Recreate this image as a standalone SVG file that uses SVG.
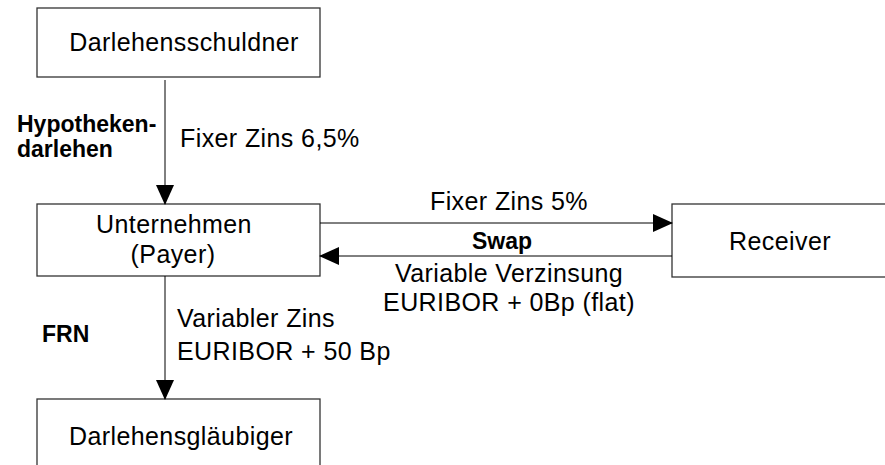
<svg xmlns="http://www.w3.org/2000/svg" width="885" height="465" viewBox="0 0 885 465">
  <style>
    .box { fill: #ffffff; stroke: #333333; stroke-width: 1.3; }
    .conn { stroke: #000000; stroke-width: 1; fill: none; }
    text { font-family: "Liberation Sans", Arial, sans-serif; font-size: 25px; letter-spacing: 0.4px; fill: #000000; }
    .b { font-weight: bold; font-size: 23px; letter-spacing: 0; }
    .c { text-anchor: middle; }
  </style>
  <defs>
    <marker id="head" markerUnits="userSpaceOnUse" markerWidth="20" markerHeight="18" refX="19" refY="9" orient="auto" viewBox="0 0 20 18">
      <polygon points="0,0 20,9 0,18" fill="#000000"/>
    </marker>
  </defs>

  <rect width="885" height="465" fill="#ffffff"/>

  <g id="darlehensschuldner">
    <rect class="box" x="37" y="8" width="283" height="69"/>
    <text class="c" x="184" y="51">Darlehensschuldner</text>
  </g>

  <g id="unternehmen">
    <rect class="box" x="37" y="204" width="283" height="72"/>
    <text class="c" x="174" y="233">Unternehmen</text>
    <text class="c" x="173" y="263">(Payer)</text>
  </g>

  <g id="receiver">
    <rect class="box" x="672" y="204" width="230" height="73"/>
    <text class="c" x="780" y="250">Receiver</text>
  </g>

  <g id="darlehensglaeubiger">
    <rect class="box" x="37" y="399" width="283" height="80"/>
    <text class="c" x="181" y="445">Darlehensgläubiger</text>
  </g>

  <g id="connectors">
    <line class="conn" x1="165" y1="80" x2="165" y2="204" marker-end="url(#head)"/>
    <line class="conn" x1="320" y1="223" x2="672" y2="223" marker-end="url(#head)"/>
    <line class="conn" x1="672" y1="256" x2="320" y2="256" marker-end="url(#head)"/>
    <line class="conn" x1="165" y1="276" x2="165" y2="399" marker-end="url(#head)"/>
  </g>

  <g id="labels">
    <text class="b" x="17" y="132">Hypotheken-</text>
    <text class="b" x="17" y="157">darlehen</text>
    <text x="180" y="147">Fixer Zins 6,5%</text>
    <text class="c" x="509" y="210">Fixer Zins 5%</text>
    <text class="b c" x="502" y="249">Swap</text>
    <text class="c" x="509" y="282">Variable Verzinsung</text>
    <text class="c" x="509" y="311">EURIBOR + 0Bp (flat)</text>
    <text class="b" x="42" y="342">FRN</text>
    <text x="177" y="327">Variabler Zins</text>
    <text x="177" y="360">EURIBOR + 50 Bp</text>
  </g>
</svg>
